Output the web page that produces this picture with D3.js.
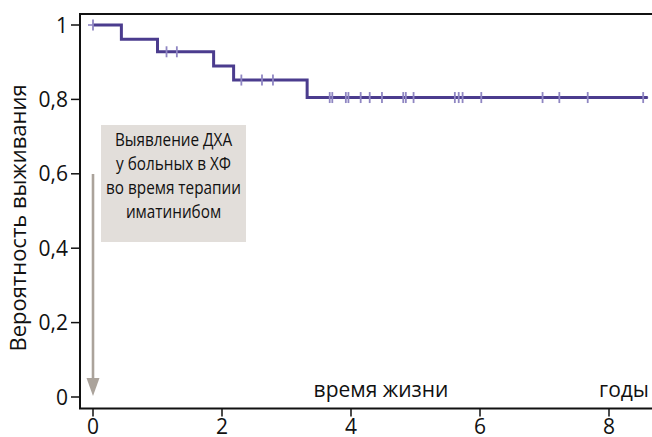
<!DOCTYPE html>
<html>
<head>
<meta charset="utf-8">
<script src="https://cdn.jsdelivr.net/npm/d3@7"></script>
<style>
  body { margin: 0; background: #fff; }
  svg { display: block; font-family: "Open Sans", "Noto Sans", sans-serif; }
</style>
</head>
<body>
<svg id="chart" width="652" height="437"></svg>
<script>
// step points of the survival curve: time (years) and survival at that time
const step_times = [0, 0.44, 1.0, 1.87, 2.18, 3.32, 8.6];
const step_surv = [1, 0.962, 0.928, 0.89, 0.852, 0.805, 0.805];
// censored observations (years)
const censor_times = [0, 1.14, 1.30, 2.30, 2.62, 2.79, 3.67, 3.71, 3.92, 3.96, 4.15, 4.29, 4.48,
	4.81, 4.85, 4.97, 5.61, 5.67, 5.73, 6.02, 6.97, 7.23, 7.67, 8.53];
const x_ticks = [0, 2, 4, 6, 8];
const y_ticks = [0, 0.2, 0.4, 0.6, 0.8, 1];
const y_tick_labels = ["0", "0,2", "0,4", "0,6", "0,8", "1"];
const note_lines = ["Выявление ДХА", "у больных в ХФ", "во время терапии", "иматинибом"];

const params = {
	line_color: "#4b3c8e",
	censor_color: "#8f86c2",
	box_color: "#e2deda",
	arrow_color: "#aba39b",
	font_size: 21
};

const svg = d3.select("#chart");

// scales
const x = d3.scaleLinear().domain([0, 8]).range([93, 609]),
	y = d3.scaleLinear().domain([0, 1]).range([397, 25]);

const frame = {left: 80, top: 14, bottom: 408.5, right: 652};

// frame: top line, left axis, bottom axis
svg.append("path")
	.attr("d", `M${frame.right},${frame.top}H${frame.left}V${frame.bottom}H${frame.right}`)
	.attr("fill", "none")
	.attr("stroke", "#111")
	.attr("stroke-width", 2);

// y ticks
const yg = svg.append("g");
y_ticks.forEach((v, i) => {
	yg.append("line")
		.attr("x1", frame.left - 9).attr("x2", frame.left)
		.attr("y1", y(v)).attr("y2", y(v))
		.attr("stroke", "#111").attr("stroke-width", 1.5);
	yg.append("text")
		.attr("x", frame.left - 12)
		.attr("y", y(v) + 7.5)
		.attr("text-anchor", "end")
		.attr("font-size", params.font_size)
		.attr("fill", "#111")
		.text(y_tick_labels[i]);
});

// x ticks
const xg = svg.append("g");
x_ticks.forEach(v => {
	xg.append("line")
		.attr("x1", x(v)).attr("x2", x(v))
		.attr("y1", frame.bottom).attr("y2", frame.bottom + 8)
		.attr("stroke", "#111").attr("stroke-width", 1.5);
	xg.append("text")
		.attr("x", x(v))
		.attr("y", 434)
		.attr("text-anchor", "middle")
		.attr("font-size", params.font_size)
		.attr("fill", "#111")
		.text(v);
});

// axis titles
svg.append("text")
	.attr("transform", "translate(26,218) rotate(-90)")
	.attr("text-anchor", "middle")
	.attr("font-size", 22)
	.attr("fill", "#111")
	.text("Вероятность выживания");

svg.append("text")
	.attr("x", 381).attr("y", 397)
	.attr("text-anchor", "middle")
	.attr("font-size", params.font_size)
	.attr("fill", "#111")
	.text("время жизни");

svg.append("text")
	.attr("x", 649).attr("y", 397)
	.attr("text-anchor", "end")
	.attr("font-size", params.font_size)
	.attr("fill", "#111")
	.text("годы");

// note box
svg.append("rect")
	.attr("x", 101).attr("y", 125)
	.attr("width", 145).attr("height", 117)
	.attr("fill", params.box_color);

// narrow face in the original, so squeeze the text a little
svg.append("g")
	.attr("transform", "translate(173.5,0) scale(0.85,1)")
	.append("text")
	.attr("text-anchor", "middle")
	.attr("font-size", 18)
	.attr("fill", "#111")
	.selectAll("tspan")
	.data(note_lines)
	.join("tspan")
	.attr("x", 0)
	.attr("y", (d, i) => 146 + i * 24)
	.text(d => d);

// arrow down along t = 0
svg.append("line")
	.attr("x1", x(0)).attr("x2", x(0))
	.attr("y1", 174).attr("y2", 382)
	.attr("stroke", params.arrow_color)
	.attr("stroke-width", 2.6);
svg.append("path")
	.attr("d", `M${x(0) - 6.5},${378}L${x(0) + 6.5},${378}L${x(0)},${396}Z`)
	.attr("fill", params.arrow_color);

// survival curve
const line = d3.line()
	.x((d, i) => x(step_times[i]))
	.y(d => y(d))
	.curve(d3.curveStepAfter);

function surv_at(t) {
	let i = d3.bisectRight(step_times, t) - 1;
	return step_surv[Math.max(0, i)];
}

// censor marks: short cross arm under the line
const cg = svg.append("g");
censor_times.forEach(t => {
	let s = surv_at(t);
	cg.append("line")
		.attr("x1", x(t) - 5).attr("x2", x(t) + 5)
		.attr("y1", y(s)).attr("y2", y(s))
		.attr("stroke", params.censor_color)
		.attr("stroke-width", 1.6);
});

svg.append("path")
	.datum(step_surv)
	.attr("d", line)
	.attr("fill", "none")
	.attr("stroke", params.line_color)
	.attr("stroke-width", 3);

// vertical parts of the censor marks over the line
const cv = svg.append("g");
censor_times.forEach(t => {
	let s = surv_at(t);
	cv.append("line")
		.attr("x1", x(t)).attr("x2", x(t))
		.attr("y1", y(s) - 5.5).attr("y2", y(s) + 5.5)
		.attr("stroke", params.censor_color)
		.attr("stroke-width", 1.8);
});
</script>
</body>
</html>
